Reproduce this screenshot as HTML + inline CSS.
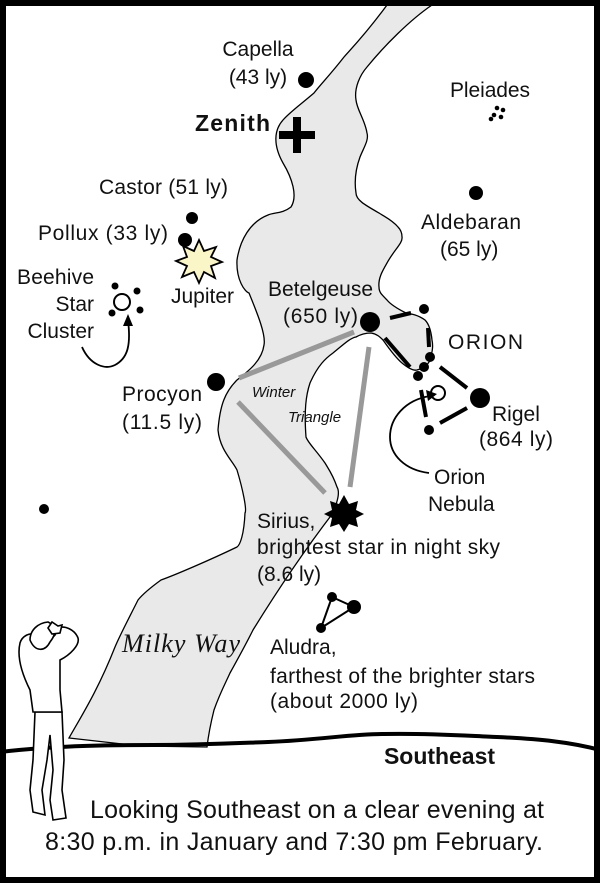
<!DOCTYPE html>
<html><head><meta charset="utf-8"><style>
html,body{margin:0;padding:0;background:#fff}
svg{display:block}
text{font-family:"Liberation Sans",sans-serif;fill:#111}
</style></head><body>
<svg width="600" height="883" viewBox="0 0 600 883" xmlns="http://www.w3.org/2000/svg">
<rect x="0" y="0" width="600" height="883" fill="#fff"/>
<path d="M387,5 C365,35 350,50 344,57 C330,75 320,85 314,93 C300,105 290,112 283,120 C274,130 273,145 283,163 C292,178 298,196 291,207 C282,214 275,212 268,215 C250,222 240,240 237,260 C236,280 245,292 249,293 C258,315 266,335 264,345 C262,360 250,370 237,380 C225,392 220,405 218,430 C220,450 232,460 237,470 C243,490 247,510 245,513 C244,535 240,545 237,547 C210,560 175,575 161,580 C150,588 142,595 138,600 C128,620 120,635 115,647 C98,690 82,715 69,738 L140,746 L207,747 C209,730 212,718 214,710 C220,693 226,682 230,673 C240,655 248,640 253,630 C290,570 320,530 333,513 C338,500 340,492 337,487 C333,475 328,468 325,463 C316,450 308,443 306,437 C304,410 306,395 310,383 C318,365 326,358 333,353 C343,345 350,338 356,337 C363,333 368,333 371,333 C377,334 380,337 383,340 C390,350 396,358 402,363 C408,368 413,371 417,370 C424,368 428,365 430,360 C433,350 433,345 432,340 C431,330 429,324 425,320 C418,315 412,314 406,313 C398,309 391,305 387,300 C381,294 379,292 379,287 C378,278 383,270 387,263 C394,250 403,243 402,237 C402,232 400,229 398,227 C392,220 385,217 379,213 C365,205 356,200 356,193 C354,180 356,168 360,157 C364,147 369,140 367,133 C365,120 357,110 356,100 C354,88 360,75 367,67 C385,45 410,20 432,5 Z" fill="#e9e9e9" stroke="#000" stroke-width="1.3"/>
<path d="M0,752 C60,745 120,745 153,745 C200,745 240,743 268,742 C320,740 350,734 383,734 C430,733 470,736 497,737 C540,739 570,742 600,750" fill="none" stroke="#000" stroke-width="4"/>
<g stroke="#999" stroke-width="5">
<line x1="239" y1="378" x2="354" y2="332"/>
<line x1="238" y1="402" x2="325" y2="493"/>
<line x1="369" y1="347" x2="350" y2="487"/>
</g>
<g fill="#000">
<circle cx="306" cy="80" r="8"/>
<circle cx="497" cy="108" r="2.3"/><circle cx="503" cy="110" r="2.3"/><circle cx="494" cy="115" r="2.3"/><circle cx="501" cy="117" r="2.3"/><circle cx="491" cy="119" r="2.3"/>
<circle cx="192" cy="218" r="6"/>
<circle cx="185" cy="240" r="7"/>
<circle cx="476" cy="193" r="7"/>
<circle cx="370" cy="322" r="10"/>
<circle cx="216" cy="382" r="9"/>
<circle cx="480" cy="398" r="10"/>
<circle cx="424" cy="309" r="5"/>
<circle cx="430" cy="357" r="5"/><circle cx="424" cy="367" r="5"/><circle cx="418" cy="376" r="5"/>
<circle cx="429" cy="430" r="5"/>
<circle cx="44" cy="509" r="5"/>
<circle cx="115" cy="286" r="3.5"/><circle cx="137" cy="291" r="3.5"/><circle cx="112" cy="313" r="3.5"/><circle cx="140" cy="310" r="3.5"/>
</g>
<circle cx="122" cy="302" r="8" fill="#fff" stroke="#000" stroke-width="2"/>
<circle cx="438" cy="393" r="7" fill="none" stroke="#000" stroke-width="2"/>
<g stroke="#000" stroke-width="8"><line x1="279" y1="135" x2="315" y2="135"/><line x1="297" y1="117" x2="297" y2="153"/></g>
<polygon points="199,240 204,251 216,247 211,257 222,262 211,266 215,278 204,272 199,283 194,272 182,277 187,266 176,261 187,257 183,246 194,251" fill="#fbf6c8" stroke="#000" stroke-width="1.8"/>
<polygon points="344,495 349,504 358,501 356,510 364,514 356,518 358,527 349,524 344,532 339,524 330,527 332,518 324,514 332,510 330,501 339,504" fill="#000"/>
<g stroke="#000" stroke-width="4" fill="none">
<line x1="390" y1="318" x2="411" y2="313"/>
<line x1="428" y1="328" x2="429" y2="347"/>
<line x1="385" y1="338" x2="410" y2="367"/>
<line x1="440" y1="367" x2="467" y2="388"/>
<line x1="467" y1="408" x2="440" y2="423"/>
<line x1="421" y1="390" x2="426" y2="417"/>
</g>
<g stroke="#000" stroke-width="2" fill="#000">
<polyline points="332,597 354,607 321,628 332,597" fill="none"/>
<circle cx="332" cy="597" r="4"/><circle cx="354" cy="607" r="6"/><circle cx="321" cy="628" r="4"/>
</g>
<path d="M82,347 C90,365 105,370 115,365 C128,358 131,345 128,320" fill="none" stroke="#000" stroke-width="1.8"/>
<polygon points="128,314 123,326 133,326" fill="#000"/>
<path d="M429,473 C405,470 390,455 390,437 C390,418 405,400 430,396" fill="none" stroke="#000" stroke-width="1.8"/>
<polygon points="437,394 426,390 428,401" fill="#000"/>
<g fill="#fff" stroke="#000" stroke-width="1.6">
<path d="M35,712 L33,760 L30,790 L33,812 L45,815 L42,790 L47,760 L50,735 L53,770 L50,800 L53,820 L66,818 L62,790 L64,760 L62,712 Z"/>
<path d="M20,643 C16,660 25,680 30,690 L33,712 L62,712 L60,690 L60,660 C70,655 80,645 78,638 C75,630 65,625 58,628 L55,635 L45,645 L35,635 C30,632 22,636 20,643 Z"/>
<path d="M30,640 C30,630 38,623 48,622 C55,625 58,632 50,642 C45,652 35,652 30,640 Z"/>
<path d="M48,628 L52,622 L58,626 L62,625 L60,633 L52,634 Z"/>
</g>
<g font-size="21">
<text x="258" y="56" text-anchor="middle">Capella</text>
<text x="258" y="84" text-anchor="middle">(43 ly)</text>
<text x="450" y="97" textLength="80">Pleiades</text>
<text x="195" y="131" font-weight="bold" font-size="23" textLength="75">Zenith</text>
<text x="99" y="194" textLength="129">Castor (51 ly)</text>
<text x="38" y="240" textLength="130">Pollux (33 ly)</text>
<text x="171" y="303" textLength="63">Jupiter</text>
<text x="17" y="284" textLength="77">Beehive</text>
<text x="94" y="311" text-anchor="end">Star</text>
<text x="94" y="338" text-anchor="end">Cluster</text>
<text x="268" y="296" textLength="105">Betelgeuse</text>
<text x="283" y="323" textLength="75">(650 ly)</text>
<text x="421" y="229" textLength="100">Aldebaran</text>
<text x="440" y="256">(65 ly)</text>
<text x="448" y="349" textLength="75">ORION</text>
<text x="122" y="401" textLength="80">Procyon</text>
<text x="122" y="429" textLength="80">(11.5 ly)</text>
<text x="492" y="421">Rigel</text>
<text x="479" y="446" textLength="74">(864 ly)</text>
<text x="434" y="484">Orion</text>
<text x="428" y="511">Nebula</text>
<text x="257" y="528">Sirius,</text>
<text x="257" y="554" textLength="243">brightest star in night sky</text>
<text x="257" y="581">(8.6 ly)</text>
<text x="270" y="654">Aludra,</text>
<text x="270" y="683" textLength="265">farthest of the brighter stars</text>
<text x="270" y="708" textLength="148">(about 2000 ly)</text>
<text x="384" y="764" font-weight="bold" font-size="23" textLength="111">Southeast</text>
</g>
<text x="252" y="397" font-size="15" font-style="italic">Winter</text>
<text x="288" y="422" font-size="15" font-style="italic">Triangle</text>
<text x="122" y="652" font-size="26" font-style="italic" style="font-family:'Liberation Serif',serif" fill="#222" textLength="118">Milky Way</text>
<text x="90" y="818" font-size="25" textLength="454">Looking Southeast on a clear evening at</text>
<text x="45" y="850" font-size="25" textLength="498">8:30 p.m. in January and 7:30 pm February.</text>
<rect x="3" y="3" width="594" height="877" fill="none" stroke="#000" stroke-width="6"/>
</svg>
</body></html>
